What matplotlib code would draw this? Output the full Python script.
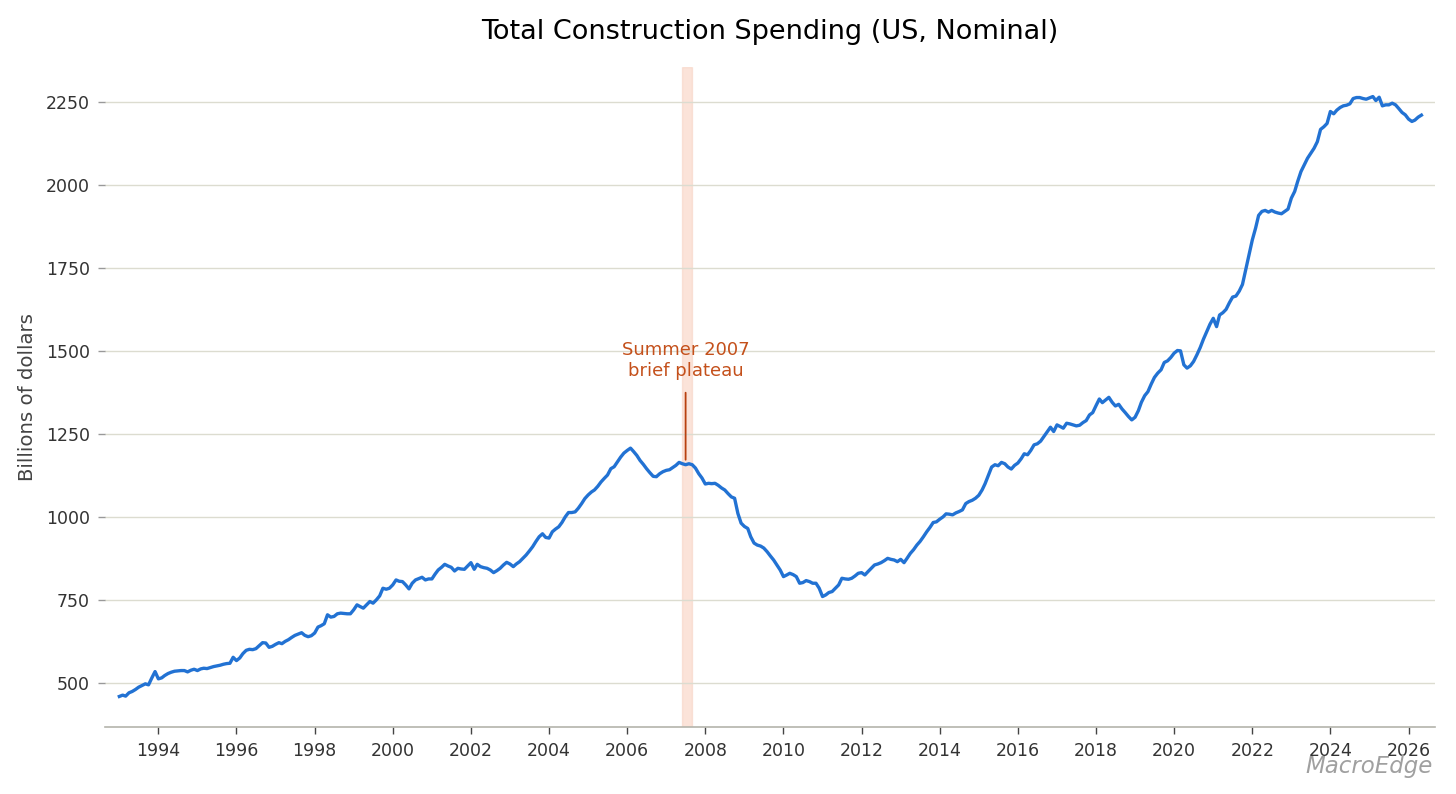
import numpy as np
import pandas as pd
import matplotlib
matplotlib.use("Agg")
import matplotlib.pyplot as plt
import matplotlib.dates as mdates

# monthly total construction spending, billions of dollars
start_month = "1993-01-01"
spending = [
    # 1993
    459, 463, 460, 470, 474, 480, 487, 492, 497, 494, 515, 534,
    # 1994
    512, 515, 522, 528, 532, 535, 536, 537, 537, 533, 538, 541,
    # 1995
    537, 542, 544, 543, 546, 549, 551, 553, 556, 558, 559, 577,
    # 1996
    567, 575, 588, 598, 601, 600, 603, 612, 621, 620, 607, 610,
    # 1997
    616, 621, 618, 625, 630, 637, 643, 647, 651, 643, 639, 642,
    # 1998
    650, 668, 672, 678, 705, 698, 700, 708, 710, 709, 708, 708,
    # 1999
    720, 735, 730, 725, 735, 745, 740, 750, 762, 785, 782, 785,
    # 2000
    795, 810, 806, 805, 795, 783, 800, 810, 814, 818, 810, 813,
    # 2001
    813, 828, 840, 848, 857, 852, 848, 837, 845, 843, 842, 852,
    # 2002
    862, 842, 857, 850, 847, 845, 840, 832, 838, 845, 855, 863,
    # 2003
    858, 850, 858, 865, 875, 885, 897, 910, 926, 940, 949, 938,
    # 2004
    936, 955, 963, 970, 983, 1000, 1013, 1013, 1015, 1026, 1040, 1055,
    # 2005
    1066, 1075, 1081, 1092, 1105, 1116, 1126, 1145, 1151, 1165, 1180, 1192,
    # 2006
    1200, 1207, 1197, 1185, 1170, 1158, 1145, 1133, 1122, 1121, 1130, 1136,
    # 2007
    1140, 1142, 1148, 1155, 1164, 1160, 1157, 1160, 1157, 1147, 1130, 1117,
    # 2008
    1099, 1101, 1100, 1101, 1095, 1087, 1081, 1070, 1060, 1056, 1010, 981,
    # 2009
    971, 965, 940, 921, 915, 912, 906, 895, 882, 870, 855, 840,
    # 2010
    820, 825, 830, 826, 820, 800, 802, 808, 805, 800, 800, 785,
    # 2011
    760, 765, 772, 775, 785, 795, 815, 813, 812, 815, 822, 830,
    # 2012
    832, 825, 835, 845, 855, 858, 862, 868, 875, 872, 870, 865,
    # 2013
    872, 862, 875, 890, 901, 915, 926, 940, 955, 968, 983, 985,
    # 2014
    993, 1000, 1009, 1008, 1006, 1012, 1016, 1021, 1040, 1046, 1050, 1056,
    # 2015
    1065, 1081, 1100, 1125, 1150, 1157, 1154, 1164, 1160, 1150, 1144, 1155,
    # 2016
    1162, 1175, 1190, 1187, 1200, 1217, 1220, 1228, 1242, 1255, 1270, 1257,
    # 2017
    1277, 1272, 1267, 1282, 1280, 1277, 1274, 1276, 1284, 1290, 1307, 1314,
    # 2018
    1335, 1355, 1344, 1352, 1360, 1345, 1334, 1339, 1325, 1314, 1302, 1292,
    # 2019
    1300, 1320, 1345, 1365, 1377, 1400, 1420, 1433, 1443, 1465, 1470, 1480,
    # 2020
    1493, 1501, 1500, 1458, 1448, 1455, 1468, 1488, 1510, 1535, 1558, 1580,
    # 2021
    1598, 1573, 1608, 1615, 1625, 1645, 1662, 1665, 1680, 1700, 1745, 1790,
    # 2022
    1834, 1870, 1908, 1920, 1923, 1918, 1923, 1918, 1915, 1913, 1920, 1927,
    # 2023
    1960, 1980, 2010, 2040, 2060, 2080, 2095, 2110, 2130, 2167, 2175, 2185,
    # 2024
    2221, 2214, 2225, 2233, 2238, 2240, 2244, 2260, 2263, 2263, 2260, 2258,
    # 2025
    2262, 2266, 2254, 2264, 2238, 2241, 2241, 2246, 2241, 2230, 2218, 2211,
    # 2026
    2198, 2191, 2195, 2204, 2210,
]

plateau_start = "2007-06-01"
plateau_end = "2007-09-01"
note_date = "2007-07-01"
note_tip = 1172
note_text_y = 1470
yticks = [500, 750, 1000, 1250, 1500, 1750, 2000, 2250]

dates = pd.date_range(start_month, periods=len(spending), freq="MS")

fig = plt.figure(figsize=(14.56, 7.94), dpi=100)
ax = fig.add_axes([105 / 1456, 1 - 727 / 794, 1330 / 1456, 660 / 794])

ax.axvspan(pd.Timestamp(plateau_start), pd.Timestamp(plateau_end),
           facecolor="#f4a582", edgecolor="#f0b8a0", alpha=0.3, lw=1, zorder=1)
ax.plot(dates, spending, color="#2272d3", lw=2.4, zorder=3)

ax.annotate(
    "Summer 2007\nbrief plateau",
    xy=(pd.Timestamp(note_date), note_tip),
    xytext=(pd.Timestamp(note_date), note_text_y),
    ha="center", va="center", fontsize=13, color="#c4501b",
    arrowprops=dict(arrowstyle="-", color="#b8400f", lw=1.3, shrinkA=7, shrinkB=0),
    zorder=4,
)

ax.set_xlim(pd.Timestamp("1992-08-20"), pd.Timestamp("2026-09-05"))
ax.set_ylim(367, 2355)
ax.set_yticks(yticks)
ax.xaxis.set_major_locator(mdates.YearLocator(2))
ax.xaxis.set_major_formatter(mdates.DateFormatter("%Y"))

ax.grid(axis="y", color="#dcdcd0", lw=1.0, zorder=0)
ax.grid(axis="x", visible=False)
for loc in ["top", "right", "left"]:
    ax.spines[loc].set_visible(False)
ax.spines["bottom"].set_color("#b4b4ac")
ax.spines["bottom"].set_linewidth(1.2)

ax.tick_params(axis="y", length=5, width=1.0, color="#999999",
               labelsize=12.5, labelcolor="#333333", pad=6)
ax.tick_params(axis="x", length=5, width=1.0, color="#444444",
               labelsize=12.5, labelcolor="#333333", pad=6)

ax.set_ylabel("Billions of dollars", fontsize=14.2, color="#444444", labelpad=6)
ax.set_title("Total Construction Spending (US, Nominal)", fontsize=19.5, pad=20)

fig.text(1433 / 1456, 1 - 766 / 794, "MacroEdge", ha="right", va="center",
         fontsize=16.5, style="italic", color="#a0a0a0")

fig.savefig("out.png", dpi=100)
